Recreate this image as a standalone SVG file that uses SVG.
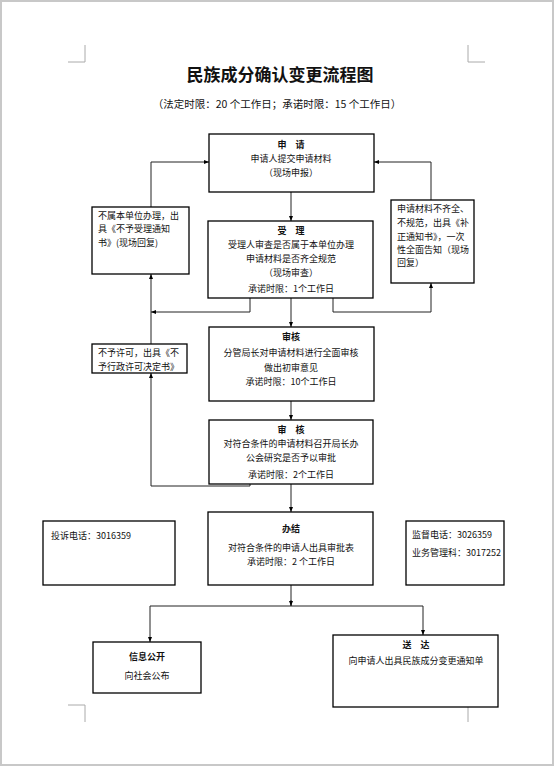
<svg xmlns="http://www.w3.org/2000/svg" width="554" height="766" viewBox="0 0 554 766">
<defs>
<marker id="ah" viewBox="0 0 10 10" refX="10" refY="5" markerWidth="5" markerHeight="5" orient="auto" markerUnits="userSpaceOnUse">
<path d="M0,1 L10,5 L0,9 z" fill="#000"/>
</marker>
<style>
.box{fill:#fff;stroke:#000;stroke-width:1.3}
.t{font-family:"Noto Sans CJK SC","Liberation Sans",sans-serif;font-size:9px;fill:#111}
.c{text-anchor:middle}
.b{font-weight:bold}
.ln{fill:none;stroke:#222;stroke-width:1}
.crop{fill:none;stroke:#aaa;stroke-width:1}
</style>
</defs>
<rect x="0" y="0" width="554" height="766" fill="#fff"/>
<rect x="1" y="1" width="552" height="764" fill="none" stroke="#c8c8c8" stroke-width="2"/>
<g id="cropmarks" class="crop">
<path d="M85,45 V62 H68"/>
<path d="M468,45 V62 H485"/>
<path d="M68,705 H85 V722"/>
<path d="M485,705 H468 V722"/>
</g>
<g id="title">
<text x="280" y="81" class="t c b" style="font-size:17px">民族成分确认变更流程图</text>
<text x="277" y="108" class="t c" style="font-size:10.5px">（法定时限：20 个工作日；承诺时限：15 个工作日）</text>
</g>
<g id="connectors">
<path class="ln" d="M291,192 V221" marker-end="url(#ah)"/>
<path class="ln" d="M151,207 V162 H209" marker-end="url(#ah)"/>
<path class="ln" d="M431,200 V162 H374" marker-end="url(#ah)"/>
<path class="ln" d="M250,298 V312 H151" marker-end="url(#ah)"/>
<path class="ln" d="M151,344 V274" marker-end="url(#ah)"/>
<path class="ln" d="M333,298 V312 H431 V283" marker-end="url(#ah)"/>
<path class="ln" d="M291,298 V327" marker-end="url(#ah)"/>
<path class="ln" d="M291,401 V420" marker-end="url(#ah)"/>
<path class="ln" d="M250,484 V486 H151 V373" marker-end="url(#ah)"/>
<path class="ln" d="M291,484 V512" marker-end="url(#ah)"/>
<path class="ln" d="M291,585 V606"/>
<path class="ln" d="M291,600 V606" marker-end="url(#ah)"/>
<path class="ln" d="M150,606 H423"/>
<path class="ln" d="M150,606 V642" marker-end="url(#ah)"/>
<path class="ln" d="M423,606 V635" marker-end="url(#ah)"/>
</g>
<g id="apply">
<rect class="box" x="209" y="134" width="165" height="58"/>
<text x="291" y="148" class="t c b">申　请</text>
<text x="291" y="162" class="t c">申请人提交申请材料</text>
<text x="291" y="176" class="t c">（现场申报）</text>
</g>
<g id="reject1">
<rect class="box" x="92" y="207" width="97" height="67"/>
<text x="98" y="219" class="t">不属本单位办理，出</text>
<text x="98" y="232" class="t">具《不予受理通知</text>
<text x="98" y="246" class="t">书》(现场回复)</text>
</g>
<g id="accept">
<rect class="box" x="208" y="221" width="165" height="77"/>
<text x="291" y="234" class="t c b">受　理</text>
<text x="291" y="248" class="t c">受理人审查是否属于本单位办理</text>
<text x="291" y="262" class="t c">申请材料是否齐全规范</text>
<text x="291" y="276" class="t c">（现场审查）</text>
<text x="291" y="292" class="t c">承诺时限：1个工作日</text>
</g>
<g id="supplement">
<rect class="box" x="391" y="200" width="83" height="83"/>
<text x="397" y="212" class="t">申请材料不齐全、</text>
<text x="397" y="226" class="t">不规范，出具《补</text>
<text x="397" y="240" class="t">正通知书》，一次</text>
<text x="397" y="253" class="t">性全面告知（现场</text>
<text x="397" y="266" class="t">回复）</text>
</g>
<g id="review1">
<rect class="box" x="209" y="327" width="165" height="74"/>
<text x="291" y="340" class="t c b">审核</text>
<text x="291" y="356" class="t c">分管局长对申请材料进行全面审核</text>
<text x="291" y="371" class="t c">做出初审意见</text>
<text x="291" y="385" class="t c">承诺时限：10个工作日</text>
</g>
<g id="reject2">
<rect class="box" x="92" y="344" width="95" height="29"/>
<text x="98" y="356" class="t">不予许可，出具《不</text>
<text x="98" y="370" class="t">予行政许可决定书》</text>
</g>
<g id="review2">
<rect class="box" x="209" y="420" width="164" height="64"/>
<text x="291" y="433" class="t c b">审　核</text>
<text x="291" y="447" class="t c">对符合条件的申请材料召开局长办</text>
<text x="291" y="461" class="t c">公会研究是否予以审批</text>
<text x="291" y="478" class="t c">承诺时限：2个工作日</text>
</g>
<g id="complaint">
<rect class="box" x="43" y="521" width="132" height="64"/>
<text x="51" y="539" class="t">投诉电话：3016359</text>
</g>
<g id="finish">
<rect class="box" x="208" y="512" width="165" height="73"/>
<text x="291" y="532" class="t c b">办结</text>
<text x="291" y="551" class="t c">对符合条件的申请人出具审批表</text>
<text x="291" y="565" class="t c">承诺时限：2 个工作日</text>
</g>
<g id="supervise">
<rect class="box" x="406" y="521" width="98" height="64"/>
<text x="412" y="538" class="t">监督电话：3026359</text>
<text x="412" y="556" class="t">业务管理科：3017252</text>
</g>
<g id="publish">
<rect class="box" x="93" y="642" width="108" height="51"/>
<text x="147" y="660" class="t c b">信息公开</text>
<text x="147" y="679" class="t c">向社会公布</text>
</g>
<g id="deliver">
<rect class="box" x="333" y="635" width="165" height="72"/>
<text x="416" y="648" class="t c b">送　达</text>
<text x="416" y="664" class="t c">向申请人出具民族成分变更通知单</text>
</g>
</svg>
